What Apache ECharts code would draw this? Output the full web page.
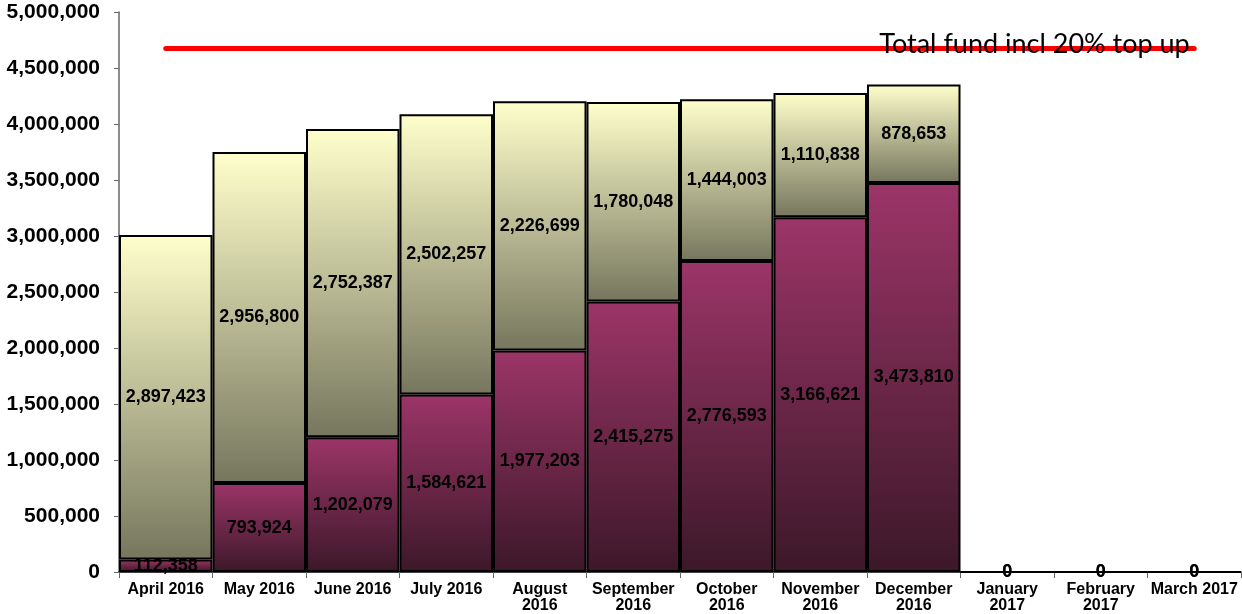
<!DOCTYPE html>
<html>
<head>
<meta charset="utf-8">
<script src="https://cdn.jsdelivr.net/npm/echarts@6/dist/echarts.min.js"></script>
<style>
  html, body { margin: 0; padding: 0; background: #fff; }
  #chart { width: 1242px; height: 614px; }
</style>
</head>
<body>
<div id="chart"></div>
<script>
const categories = [
  "April 2016", "May 2016", "June 2016", "July 2016", "August 2016", "September 2016",
  "October 2016", "November 2016", "December 2016", "January 2017", "February 2017", "March 2017"
];
const spentValues = [112358, 793924, 1202079, 1584621, 1977203, 2415275, 2776593, 3166621, 3473810, 0, 0, 0];
const remainingValues = [2897423, 2956800, 2752387, 2502257, 2226699, 1780048, 1444003, 1110838, 878653, 0, 0, 0];
const fundTotal = 4675000;
const fundLabel = "Total fund incl 20% top up";

function fmt(v) {
  return String(v).replace(/\B(?=(\d{3})+(?!\d))/g, ",");
}

const chart = echarts.init(document.getElementById("chart"));

const labelStyle = {
  show: true,
  position: "inside",
  color: "#000",
  fontFamily: "Liberation Sans",
  fontWeight: "bold",
  fontSize: 18,
  formatter: (p) => fmt(p.value)
};

const lastIdx = categories.length - 1;
const fundData = categories.map((c, i) =>
  i === lastIdx ? { value: fundTotal, label: { show: true } } : fundTotal
);

chart.setOption({
  animation: false,
  grid: { left: 119, right: 1, top: 12, bottom: 42 },
  xAxis: {
    type: "category",
    data: categories,
    axisLine: { lineStyle: { color: "#000", width: 1.5 } },
    axisTick: { show: true, length: 6, lineStyle: { color: "#666" } },
    axisLabel: {
      color: "#000",
      fontFamily: "Liberation Sans",
      fontWeight: "bold",
      fontSize: 16,
      lineHeight: 16,
      margin: 10,
      interval: 0,
      formatter: (v) => (v.length > 10 ? v.replace(" ", "\n") : v)
    }
  },
  yAxis: {
    type: "value",
    min: 0,
    max: 5000000,
    interval: 500000,
    splitLine: { show: false },
    axisLine: { show: true, lineStyle: { color: "#666", width: 1.5 } },
    axisTick: { show: true, length: 5, lineStyle: { color: "#666" } },
    axisLabel: {
      color: "#000",
      fontFamily: "Liberation Sans",
      fontWeight: "bold",
      fontSize: 21,
      margin: 19,
      formatter: fmt
    }
  },
  series: [
    {
      name: "Spent",
      type: "bar",
      stack: "total",
      barCategoryGap: "0%",
      data: spentValues,
      itemStyle: {
        borderColor: "#000",
        borderWidth: 2,
        color: new echarts.graphic.LinearGradient(0, 0, 0, 1, [
          { offset: 0, color: "#9c3568" },
          { offset: 1, color: "#3c1829" }
        ])
      },
      label: labelStyle
    },
    {
      name: "Remaining",
      type: "bar",
      stack: "total",
      barCategoryGap: "0%",
      data: remainingValues,
      itemStyle: {
        borderColor: "#000",
        borderWidth: 2,
        color: new echarts.graphic.LinearGradient(0, 0, 0, 1, [
          { offset: 0, color: "#ffffcc" },
          { offset: 1, color: "#76765e" }
        ])
      },
      label: labelStyle
    },
    {
      name: "Fund",
      type: "line",
      data: fundData,
      symbol: "circle",
      symbolSize: 1,
      showSymbol: true,
      itemStyle: { color: "#ff0000" },
      lineStyle: { color: "#ff0000", width: 5, cap: "round" },
      label: {
        show: false,
        position: "left",
        distance: 4,
        offset: [0, -4],
        color: "#000",
        fontFamily: "Lato",
        fontSize: 27,
        formatter: () => fundLabel
      },
      z: 5
    }
  ]
});
</script>
</body>
</html>
